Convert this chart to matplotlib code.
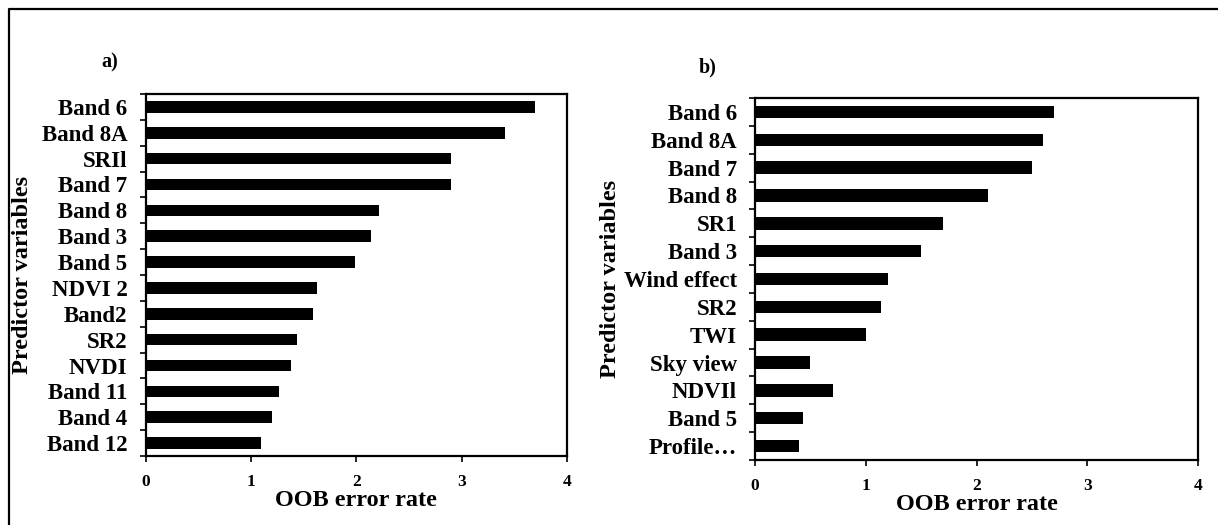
import matplotlib
matplotlib.use("Agg")
import matplotlib.pyplot as plt
from matplotlib.lines import Line2D
import numpy as np

# variable importance, top to bottom
vars_a = ["Band 6", "Band 8A", "SRIl", "Band 7", "Band 8", "Band 3", "Band 5",
          "NDVI 2", "Band2", "SR2", "NVDI", "Band 11", "Band 4", "Band 12"]
oob_a = [3.70, 3.41, 2.90, 2.90, 2.22, 2.14, 1.99, 1.63, 1.59, 1.44, 1.38, 1.27, 1.20, 1.10]

vars_b = ["Band 6", "Band 8A", "Band 7", "Band 8", "SR1", "Band 3", "Wind effect",
          "SR2", "TWI", "Sky view", "NDVIl", "Band 5", "Profile\u2026"]
oob_b = [2.70, 2.60, 2.50, 2.10, 1.70, 1.50, 1.20, 1.14, 1.00, 0.50, 0.70, 0.43, 0.40]

xticks = [0, 1, 2, 3, 4]

plt.rcParams["font.family"] = ["Liberation Serif", "DejaVu Serif"]
plt.rcParams["font.weight"] = "bold"

W, H = 1218, 525
fig = plt.figure(figsize=(W / 100, H / 100), dpi=100)


def px_axes(x0, y0, x1, y1):
    return fig.add_axes([x0 / W, 1 - y1 / H, (x1 - x0) / W, (y1 - y0) / H])


def draw_panel(ax, names, vals, bar_h, ylab_x):
    n = len(names)
    pos = np.arange(n)
    ax.barh(pos, vals, height=bar_h, color="black")
    ax.set_ylim(n - 0.5, -0.5)
    ax.set_xlim(0, 4)
    ax.set_xticks(xticks)
    ax.set_xticklabels([str(t) for t in xticks], fontsize=12.5, fontweight="bold")
    ax.set_yticks(pos)
    ax.set_yticklabels(names, fontsize=16.5, fontweight="bold")
    ax.set_yticks(np.arange(n + 1) - 0.5, minor=True)
    ax.tick_params(axis="y", which="major", length=0, pad=13)
    ax.tick_params(axis="y", which="minor", length=4, width=1.2, direction="out")
    ax.tick_params(axis="x", length=4, width=1.2, direction="out", pad=9)
    for s in ax.spines.values():
        s.set_linewidth(1.6)
    ax.set_xlabel("OOB error rate", fontsize=17.5, fontweight="bold", labelpad=0)
    ax.set_ylabel("Predictor variables", fontsize=17.5, fontweight="bold")
    ax.yaxis.set_label_coords(ylab_x, 0.5)


ax_a = px_axes(145.6, 94, 567, 456)
draw_panel(ax_a, vars_a, oob_a, 0.45, -0.267)

ax_b = px_axes(755, 98, 1198, 460)
draw_panel(ax_b, vars_b, oob_b, 0.45, -0.302)

fig.text(110 / W, 1 - 62 / H, "a)", fontsize=14.5, fontweight="bold", ha="center", va="center")
fig.text(708 / W, 1 - 67 / H, "b)", fontsize=14.5, fontweight="bold", ha="center", va="center")

# outer frame (top and left edges only fall inside the canvas)
fig.add_artist(Line2D([9 / W, 9 / W, 1.01], [-0.01, 1 - 9 / H, 1 - 9 / H],
                      transform=fig.transFigure, color="black", linewidth=1.6))

fig.savefig("out.png", dpi=100)
